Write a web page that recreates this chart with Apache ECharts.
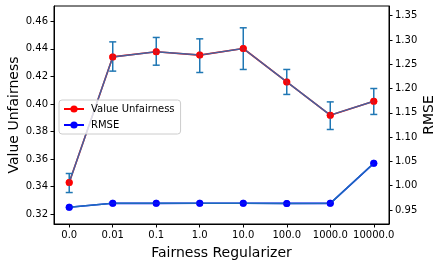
<!DOCTYPE html>
<html>
<head>
<meta charset="utf-8">
<script src="https://cdn.jsdelivr.net/npm/echarts@6/dist/echarts.min.js"></script>
<style>html,body{margin:0;padding:0;background:#fff}#c{width:443px;height:266px}</style>
</head>
<body>
<div id="c"></div>
<script>
const categories = ['0.0','0.01','0.1','1.0','10.0','100.0','1000.0','10000.0'];
const unfairness = [0.343, 0.4341, 0.4378, 0.4354, 0.4402, 0.416, 0.3919, 0.402];
const unfairLow  = [0.3358, 0.4238, 0.4281, 0.4228, 0.425, 0.4069, 0.3815, 0.3924];
const unfairHigh = [0.3496, 0.445, 0.4482, 0.4472, 0.4552, 0.425, 0.4015, 0.4112];
const rmse = [0.9555, 0.9637, 0.9635, 0.9636, 0.9637, 0.9634, 0.9635, 1.046];
const leftTicks = [0.32, 0.34, 0.36, 0.38, 0.40, 0.42, 0.44, 0.46];
const rightTicks = [0.95, 1.00, 1.05, 1.10, 1.15, 1.20, 1.25, 1.30, 1.35];

const idx = categories.map((_, i) => i);
const uData = idx.map(i => [i, unfairness[i]]);
const rData = idx.map(i => [i, rmse[i]]);
const eData = idx.map(i => [i, unfairLow[i], unfairHigh[i]]);

const font = 'DejaVu Sans';
const C0 = '#1f77b4';
const chart = echarts.init(document.getElementById('c'), null, {renderer: 'canvas'});
chart.setOption({
  animation: false,
  textStyle: {fontFamily: font},
  grid: {left: 54, right: 54, top: 6, bottom: 42, containLabel: false, outerBoundsMode: 'none',
    show: true, borderColor: '#000', borderWidth: 1, backgroundColor: 'transparent'},
  legend: {
    orient: 'vertical', left: 59, top: 100,
    data: ['Value Unfairness', 'RMSE'],
    itemWidth: 20, itemHeight: 9, itemGap: 6,
    padding: [4, 6, 4, 4],
    borderColor: '#cccccc', borderWidth: 1, borderRadius: 3,
    backgroundColor: 'rgba(255,255,255,0.8)',
    textStyle: {fontFamily: font, fontSize: 10, color: '#000', padding: [0, 0, 0, 2]}
  },
  xAxis: {
    type: 'value', min: -0.35, max: 7.35,
    name: 'Fairness Regularizer', nameLocation: 'middle', nameGap: 22, nameMoveOverlap: false,
    nameTextStyle: {fontFamily: font, fontSize: 14, color: '#000'},
    axisLine: {show: true, onZero: false, lineStyle: {color: '#000', width: 1}},
    axisTick: {show: true, length: 3.5, customValues: idx, lineStyle: {color: '#000'}},
    axisLabel: {customValues: idx, fontFamily: font, fontSize: 10, color: '#000', margin: 6,
      formatter: v => categories[Math.round(v)]},
    splitLine: {show: false}
  },
  yAxis: [{
    type: 'value', min: 0.313, max: 0.471, position: 'left',
    name: 'Value Unfairness', nameLocation: 'middle', nameGap: 33, nameRotate: 90, nameMoveOverlap: false,
    nameTextStyle: {fontFamily: font, fontSize: 14, color: '#000'},
    axisLine: {show: true, onZero: false, lineStyle: {color: '#000', width: 1}},
    axisTick: {show: true, length: 3.5, customValues: leftTicks, lineStyle: {color: '#000'}},
    axisLabel: {customValues: leftTicks, fontFamily: font, fontSize: 10, color: '#000', margin: 6,
      formatter: v => v.toFixed(2)},
    splitLine: {show: false}
  }, {
    type: 'value', min: 0.921, max: 1.370, position: 'right',
    name: 'RMSE', nameLocation: 'middle', nameGap: 33, nameRotate: 90, nameMoveOverlap: false,
    nameTextStyle: {fontFamily: font, fontSize: 14, color: '#000'},
    axisLine: {show: true, onZero: false, lineStyle: {color: '#000', width: 1}},
    axisTick: {show: true, length: 3.5, customValues: rightTicks, lineStyle: {color: '#000'}},
    axisLabel: {customValues: rightTicks, fontFamily: font, fontSize: 10, color: '#000', margin: 6,
      formatter: v => v.toFixed(2)},
    splitLine: {show: false}
  }],
  series: [
    {
      name: 'Value Unfairness', type: 'line', yAxisIndex: 0, data: uData, z: 2,
      symbol: 'circle', symbolSize: 7, color: '#ff0000',
      itemStyle: {color: '#ff0000'}, lineStyle: {color: '#ff0000', width: 1.6}
    },
    {
      name: 'ueb', type: 'line', yAxisIndex: 0, data: uData, z: 3,
      showSymbol: false, symbol: 'none', lineStyle: {color: '#2f6db0', width: 1.5, opacity: 0.9}
    },
    {
      name: 'uerr', type: 'custom', yAxisIndex: 0, data: eData, z: 3,
      renderItem: function (params, api) {
        const x = api.value(0);
        const lo = api.coord([x, api.value(1)]);
        const hi = api.coord([x, api.value(2)]);
        const hw = 3.5;
        const st = {stroke: C0, lineWidth: 1.5, fill: null};
        return {type: 'group', children: [
          {type: 'line', shape: {x1: lo[0], y1: lo[1], x2: hi[0], y2: hi[1]}, style: st},
          {type: 'line', shape: {x1: lo[0]-hw, y1: lo[1], x2: lo[0]+hw, y2: lo[1]}, style: st},
          {type: 'line', shape: {x1: hi[0]-hw, y1: hi[1], x2: hi[0]+hw, y2: hi[1]}, style: st}
        ]};
      }
    },
    {
      name: 'umk', type: 'scatter', yAxisIndex: 0, data: uData, z: 4,
      symbol: 'circle', symbolSize: 7, itemStyle: {color: '#ff0000'}
    },
    {
      name: 'RMSE', type: 'line', yAxisIndex: 1, data: rData, z: 2,
      symbol: 'circle', symbolSize: 7, color: '#0000ff',
      itemStyle: {color: '#0000ff'}, lineStyle: {color: '#0000ff', width: 1.6}
    },
    {
      name: 'reb', type: 'line', yAxisIndex: 1, data: rData, z: 3,
      showSymbol: false, symbol: 'none', lineStyle: {color: C0, width: 1.5, opacity: 0.9}
    },
    {
      name: 'rmk', type: 'scatter', yAxisIndex: 1, data: rData, z: 4,
      symbol: 'circle', symbolSize: 7, itemStyle: {color: '#0000ff'}
    }
  ]
});
</script>
</body>
</html>
